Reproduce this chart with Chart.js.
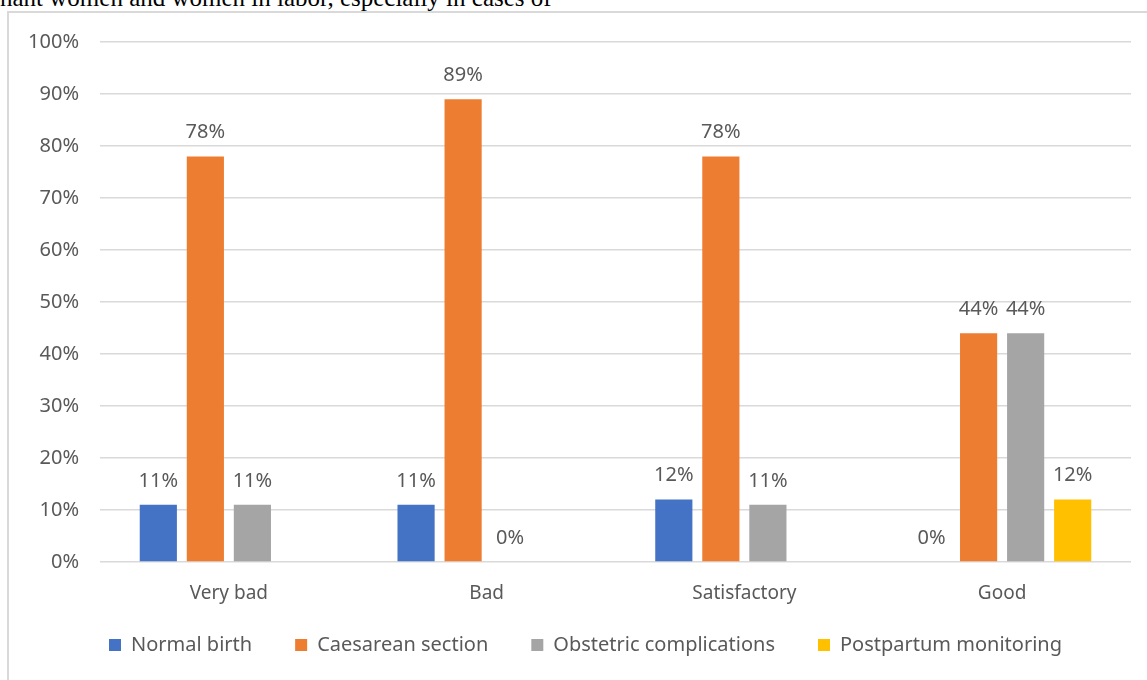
<!DOCTYPE html>
<html>
<head>
    <title>Delivery outcomes by rating</title>
    <script src="https://cdn.jsdelivr.net/npm/chart.js"></script>
    <style>
        body {
            margin: 0;
            background-color: white;
            overflow: hidden;
        }
        .caption {
            position: absolute;
            left: 0;
            top: -15px;
            font-family: "Liberation Serif", serif;
            font-size: 25px;
            line-height: 25px;
            color: #000;
            white-space: nowrap;
        }
        .frame {
            position: absolute;
            left: 7px;
            top: 11px;
            width: 1200px;
            height: 700px;
            border-left: 2px solid #d9d9d9;
            border-top: 2px solid #d9d9d9;
        }
        .chart-box {
            position: absolute;
            left: 0;
            top: 0;
            width: 1147px;
            height: 680px;
        }
    </style>
</head>
<body>
    <div class="caption">nant women and women in labor, especially in cases of</div>
    <div class="frame"></div>
    <div class="chart-box">
        <canvas id="outcomeChart"></canvas>
    </div>

    <script>
        const categories = ['Very bad', 'Bad', 'Satisfactory', 'Good'];
        const normalBirth = [11, 11, 12, 0];
        const caesarean = [78, 89, 78, 44];
        const complications = [11, 0, 11, 44];
        const postpartum = [null, null, null, 12];

        const textColor = '#595959';
        const fontFamily = '"Noto Sans", "Open Sans", sans-serif';

        // draws the percent label above every bar
        const valueLabels = {
            id: 'valueLabels',
            afterDatasetsDraw(chart) {
                const ctx = chart.ctx;
                ctx.save();
                ctx.font = '20px ' + fontFamily;
                ctx.fillStyle = textColor;
                ctx.textAlign = 'center';
                ctx.textBaseline = 'middle';
                chart.data.datasets.forEach((ds, i) => {
                    const meta = chart.getDatasetMeta(i);
                    meta.data.forEach((bar, j) => {
                        const v = ds.data[j];
                        if (v === null || v === undefined) return;
                        ctx.fillText(v + '%', bar.x, bar.y - 24);
                    });
                });
                ctx.restore();
            }
        };

        // nudge the legend into place without touching the plot area
        const legendShift = {
            id: 'legendShift',
            afterLayout(chart) {
                const lg = chart.legend;
                if (!lg) return;
                lg.left += 40;
                lg.top -= 15;
                lg.bottom -= 15;
            }
        };

        const ctx = document.getElementById('outcomeChart').getContext('2d');
        const outcomeChart = new Chart(ctx, {
            type: 'bar',
            data: {
                labels: categories,
                datasets: [
                    { label: 'Normal birth', data: normalBirth, backgroundColor: '#4472C4' },
                    { label: 'Caesarean section', data: caesarean, backgroundColor: '#ED7D31' },
                    { label: 'Obstetric complications', data: complications, backgroundColor: '#A5A5A5' },
                    { label: 'Postpartum monitoring', data: postpartum, backgroundColor: '#FFC000' }
                ]
            },
            options: {
                responsive: true,
                maintainAspectRatio: false,
                animation: false,
                datasets: {
                    bar: {
                        barPercentage: 0.79,
                        categoryPercentage: 0.73
                    }
                },
                layout: {
                    padding: { left: 0, right: 16, top: 42, bottom: 0 }
                },
                scales: {
                    x: {
                        grid: { display: false },
                        border: { display: false },
                        ticks: {
                            color: textColor,
                            padding: 12,
                            font: { family: fontFamily, size: 19 }
                        },
                        afterFit(scale) { scale.height = 45; }
                    },
                    y: {
                        min: 0,
                        max: 100,
                        grid: { color: '#d9d9d9', lineWidth: 1.5, drawTicks: false },
                        border: { display: false },
                        ticks: {
                            stepSize: 10,
                            color: textColor,
                            padding: 21,
                            font: { family: fontFamily, size: 20 },
                            callback: v => v + '%'
                        },
                        afterFit(scale) { scale.width = 100; }
                    }
                },
                plugins: {
                    legend: {
                        position: 'bottom',
                        labels: {
                            boxWidth: 12,
                            boxHeight: 12,
                            padding: 43,
                            color: textColor,
                            font: { family: fontFamily, size: 20 }
                        }
                    },
                    tooltip: { enabled: false }
                }
            },
            plugins: [valueLabels, legendShift]
        });
    </script>
</body>
</html>
